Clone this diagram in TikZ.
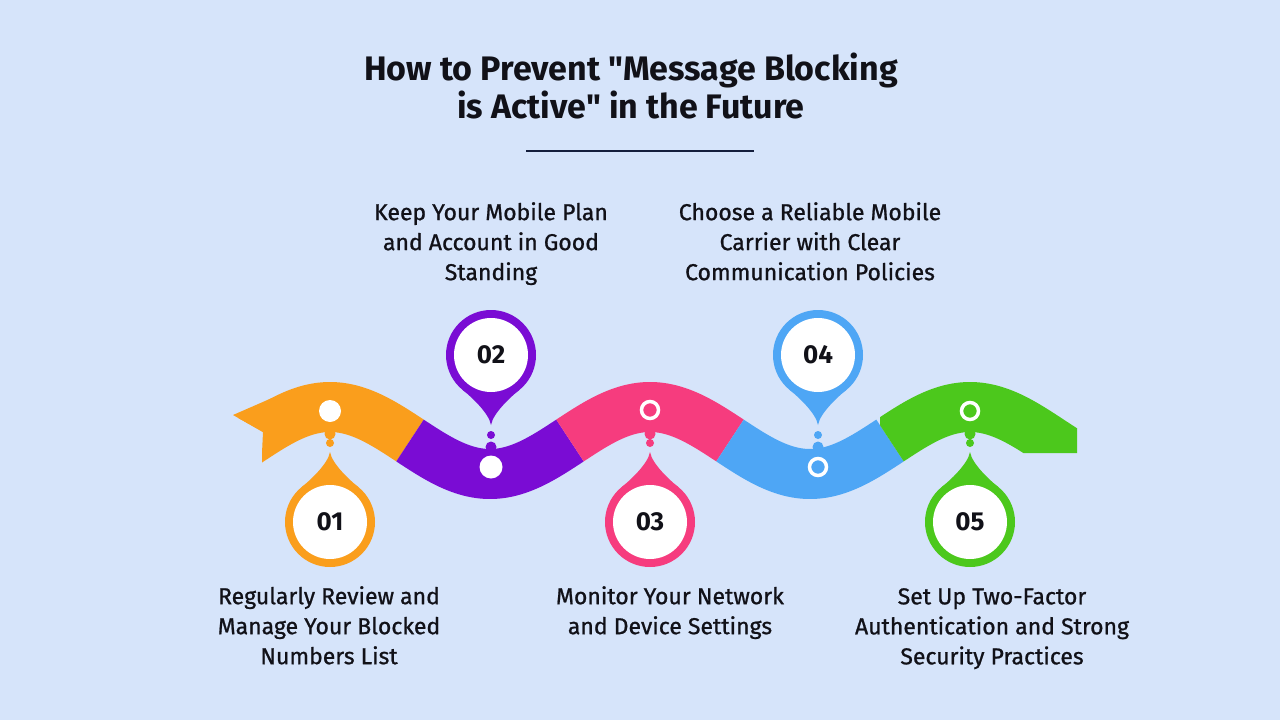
\documentclass[tikz,border=0pt]{standalone}
\usepackage{fontspec}
\setmainfont{Fira Sans}[Ligatures=TeXOff]
\newfontfamily\bodyfont[FakeBold=0.9]{Fira Sans}
\definecolor{bg}{RGB}{214,228,250}
\definecolor{cOrange}{RGB}{250,158,28}
\definecolor{cPurple}{RGB}{122,12,212}
\definecolor{cPink}{RGB}{246,60,126}
\definecolor{cBlue}{RGB}{78,166,245}
\definecolor{cGreen}{RGB}{76,200,28}
\definecolor{ink}{RGB}{17,17,24}
\definecolor{rule}{RGB}{20,30,60}
\tikzset{
  band/.style={line width=50pt, line cap=butt},
  droptip/.pic={
    \fill[pic actions] (0,0) circle (45);
    \fill[pic actions] (0,-70) .. controls (2,-58) and (20.3,-41.3) .. (28.1,-35.1)
      -- (0,0) -- (-28.1,-35.1) .. controls (-20.3,-41.3) and (-2,-58) .. (0,-70) -- cycle;
    \fill[white] (0,0) circle (37);
  },
  body/.style={font=\bodyfont\fontsize{23}{30}\selectfont, text=ink, align=center, inner sep=0pt},
  num/.style={font=\bfseries\fontsize{26}{26}\selectfont, text=ink, inner sep=0pt},
  title/.style={font=\bfseries\fontsize{34}{38}\selectfont, text=ink, align=center, inner sep=0pt},
  dotw/.style={fill=white},
  ringw/.style={draw=white, line width=3.5pt}
}
\begin{document}
\begin{tikzpicture}[x=1pt,y=-1pt]
\useasboundingbox (0,0) rectangle (1280,720);
\fill[bg] (0,0) rectangle (1280,720);

% title
\node[title, anchor=north] (title) at (631,53) {How to Prevent "Message Blocking\\is Active" in the Future};
\coordinate (ruleL) at (526,151);
\coordinate (ruleR) at (754,151);
\draw[rule, line width=2pt] (ruleL) -- (ruleR);

% band segments
\begin{scope}
  \clip (233,300) -- (233,415) -- (263,432) -- (262,453) -- (262,600) -- (500,600) -- (500,300) -- cycle;
  \draw[band, cOrange] plot[domain=210:410, samples=80] (\x, {440.5-33.5*cos(1.125*(\x-330))});
\end{scope}
\fill[cOrange] (233,415) -- (263,432) -- (272,398) -- cycle;
\draw[band, cPurple] plot[domain=410:570, samples=80] (\x, {440.5-33.5*cos(1.125*(\x-330))});
\draw[band, cPink] plot[domain=570:730, samples=80] (\x, {440.5-33.5*cos(1.125*(\x-330))});
\draw[band, cBlue] plot[domain=730:890, samples=80] (\x, {440.5-33.5*cos(1.125*(\x-330))});
\begin{scope}
  \clip (880,300) -- (1077,300) -- (1077,453) -- (1000,453) -- (1000,600) -- (880,600) -- cycle;
  \draw[band, cGreen] plot[domain=890:1110, samples=80] (\x, {440.5-33.5*cos(1.125*(\x-330))});
\end{scope}

% pins below (01, 03, 05)
\pic[cOrange] at (330,522) {droptip};
\pic[cPink] at (650,522) {droptip};
\pic[cGreen] at (970,522) {droptip};
% pins above (02, 04)
\pic[cPurple, yscale=-1] at (491,355) {droptip};
\pic[cBlue, yscale=-1] at (818,355) {droptip};

% connectors: nubs and dots
\fill[cOrange] (330,434) circle (5.5) (330,443) circle (4);
\fill[cPink] (650,434) circle (5.5) (650,443) circle (4);
\fill[cGreen] (970,434) circle (5.5) (970,443) circle (4);
\fill[cPurple] (491,447) circle (5.5) (491,435) circle (4);
\fill[cBlue] (818,447) circle (5.5) (818,435) circle (4);

% markers on band
\fill[dotw] (330,411) circle (11);
\fill[dotw] (491,467) circle (11.5);
\draw[ringw] (650,410) circle (8.5);
\draw[ringw] (818,467) circle (8.5);
\draw[ringw] (970,411) circle (8.5);

% numbers
\node[num] (n1) at (330,522) {01};
\node[num] (n2) at (491,355) {02};
\node[num] (n3) at (650,522) {03};
\node[num] (n4) at (818,355) {04};
\node[num] (n5) at (970,522) {05};

% labels
\node[body, anchor=north] (t1) at (329,586) {Regularly Review and\\Manage Your Blocked\\Numbers List};
\node[body, anchor=north] (t2) at (491,202) {Keep Your Mobile Plan\\and Account in Good\\Standing};
\node[body, anchor=north] (t3) at (670,586) {Monitor Your Network\\and Device Settings};
\node[body, anchor=north] (t4) at (810,202) {Choose a Reliable Mobile\\Carrier with Clear\\Communication Policies};
\node[body, anchor=north] (t5) at (992,588) {Set Up Two-Factor\\Authentication and Strong\\Security Practices};
\end{tikzpicture}
\end{document}
